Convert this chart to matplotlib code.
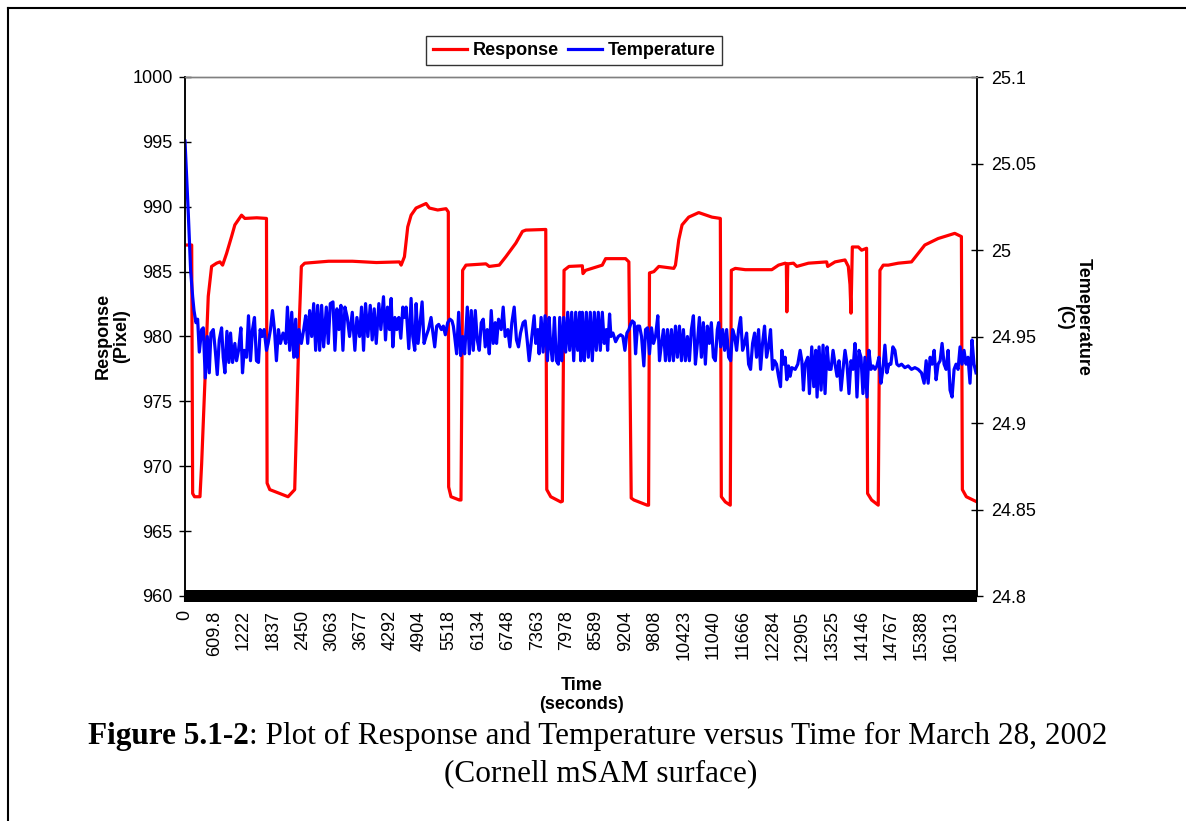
import matplotlib
matplotlib.use("Agg")
import matplotlib.pyplot as plt
from matplotlib.ticker import FixedLocator, FixedFormatter
from matplotlib.lines import Line2D
import numpy as np

# ---------------- data ----------------
resp_time = [
    0, 140, 160, 200, 313, 348, 417, 486,
    556, 660, 730, 786, 869, 973, 1042, 1182,
    1251, 1500, 1703, 1716, 1772, 1981, 2154, 2293,
    2328, 2383, 2432, 2502, 3000, 3500, 4000, 4483,
    4518, 4587, 4656, 4726, 4830, 5039, 5108, 5282,
    5456, 5504, 5511, 5560, 5734, 5769, 5803, 5873,
    6290, 6359, 6568, 6707, 6916, 7054, 7124, 7541,
    7562, 7645, 7854, 7888, 7923, 8027, 8305, 8319,
    8375, 8722, 8792, 9209, 9278, 9327, 9383, 9661,
    9690, 9709, 9800, 9904, 10217, 10252, 10321, 10390,
    10529, 10738, 11015, 11190, 11211, 11294, 11398, 11419,
    11503, 11711, 12266, 12406, 12545, 12570, 12580, 12600,
    12719, 12788, 13031, 13413, 13434, 13588, 13796, 13865,
    13900, 13921, 13949, 14074, 14143, 14247, 14268, 14352,
    14491, 14526, 14595, 14700, 14908, 15186, 15464, 15742,
    16090, 16229, 16249, 16332, 16555,
]
resp_value = [
    987.05, 987.05, 967.9, 967.65, 967.65, 970.2, 976.6, 983.1,
    985.4, 985.65, 985.75, 985.5, 986.4, 987.7, 988.6, 989.35,
    989.1, 989.15, 989.1, 968.7, 968.2, 967.9, 967.65, 968.2,
    972.8, 980.5, 985.4, 985.65, 985.8, 985.8, 985.7, 985.75,
    985.5, 986.15, 988.45, 989.35, 989.9, 990.25, 989.9, 989.75,
    989.85, 989.6, 968.4, 967.65, 967.4, 967.4, 985.1, 985.5,
    985.6, 985.4, 985.5, 986.15, 987.2, 988.1, 988.2, 988.25,
    968.2, 967.65, 967.25, 967.3, 985.1, 985.4, 985.45, 984.85,
    985.1, 985.5, 986.0, 986.0, 985.75, 967.55, 967.4, 967.0,
    967.0, 984.9, 985.0, 985.4, 985.25, 985.5, 987.45, 988.6,
    989.2, 989.55, 989.2, 989.1, 967.65, 967.25, 967.0, 985.1,
    985.25, 985.15, 985.15, 985.5, 985.65, 985.6, 981.9, 985.6,
    985.65, 985.4, 985.65, 985.75, 985.4, 985.75, 985.9, 985.4,
    984.0, 981.8, 986.9, 986.9, 986.65, 986.8, 967.9, 967.4,
    967.0, 985.1, 985.5, 985.5, 985.65, 985.75, 987.05, 987.55,
    987.95, 987.7, 968.2, 967.65, 967.25,
]

temp_time = [
    0, 69, 118, 160, 188, 229, 264, 299, 348, 382,
    424, 466, 507, 542, 591, 633, 674, 716, 765, 799,
    834, 876, 917, 952, 994, 1042, 1077, 1119, 1168, 1202,
    1237, 1286, 1327, 1369, 1411, 1452, 1494, 1536, 1571, 1612,
    1654, 1703, 1737, 1786, 1828, 1870, 1911, 1953, 1995, 2050,
    2106, 2141, 2189, 2231, 2273, 2314, 2342, 2383, 2432, 2481,
    2523, 2565, 2606, 2648, 2690, 2731, 2773, 2815, 2856, 2898,
    2954, 2995, 3037, 3093, 3134, 3176, 3218, 3259, 3301, 3343,
    3392, 3440, 3496, 3551, 3593, 3649, 3690, 3732, 3774, 3822,
    3872, 3913, 3955, 3997, 4052, 4094, 4149,
    4191, 4233, 4275, 4309, 4344, 4386, 4427, 4469, 4511, 4553,
    4594, 4622, 4678, 4726, 4761, 4803, 4831, 4872, 4900, 4956,
    4997, 5039, 5088, 5143, 5178, 5220, 5261, 5303, 5359, 5400,
    5442, 5491, 5539, 5581, 5609, 5637, 5678, 5720, 5762, 5804,
    5845, 5901, 5943, 5984, 6026, 6068, 6109, 6151, 6193, 6234,
    6276, 6318, 6360, 6401, 6443, 6485, 6512, 6554, 6610, 6651,
    6693, 6749, 6790, 6832, 6881, 6929, 6971, 7013, 7068, 7110,
    7152, 7194, 7249, 7298, 7333, 7374, 7402, 7444, 7485, 7527,
    7576, 7611, 7645, 7680, 7722, 7763, 7805, 7833, 7875, 7916,
    7958, 8000, 8041, 8083, 8125, 8167, 8208, 8250,
    8271, 8306, 8347, 8389, 8431, 8472, 8514, 8556, 8597, 8639,
    8681, 8723, 8764, 8806, 8834, 8875, 8903, 8945, 9001, 9056,
    9105, 9153, 9195, 9237, 9279, 9313, 9348, 9390, 9418, 9459,
    9501, 9543, 9591, 9626, 9668, 9709, 9751, 9793, 9835, 9883,
    9918, 9960, 10001, 10043, 10085, 10126, 10168, 10210, 10252, 10293,
    10335, 10377, 10418, 10460, 10502, 10543, 10585, 10627, 10669, 10710,
    10752, 10794, 10835, 10877, 10919, 10960, 11002, 11044, 11086, 11127,
    11155, 11197, 11238, 11280, 11322, 11364, 11405, 11447, 11489, 11530,
    11572, 11614, 11655, 11697, 11739, 11781, 11822, 11864, 11906, 11947,
    11989, 12031, 12072, 12114, 12156, 12198, 12239, 12281, 12323, 12364,
    12406, 12448,
    12476, 12510, 12545, 12580, 12615, 12649, 12684, 12754, 12809, 12858,
    12893, 12927, 12962, 13018, 13052, 13101, 13143, 13184, 13212, 13254,
    13296, 13337, 13379, 13421, 13462, 13504, 13546, 13588, 13629, 13671,
    13713, 13754, 13796, 13838, 13879, 13921, 13963, 14005, 14046, 14088,
    14130, 14171, 14213, 14255, 14296, 14338, 14380, 14422, 14463, 14505,
    14547, 14588, 14630, 14672, 14713, 14755, 14797, 14839, 14880, 14922,
    14978, 15047, 15117, 15186, 15256, 15325, 15395, 15450, 15492, 15534,
    15575, 15617, 15659, 15700, 15742, 15784, 15825, 15867, 15909, 15951,
    15992, 16034, 16076, 16117, 16159, 16201, 16242, 16284, 16326, 16367,
    16409, 16451, 16492, 16534,
]
temp_value = [
    25.063, 25.021, 24.988, 24.973, 24.965, 24.958, 24.960, 24.941, 24.954, 24.955,
    24.926, 24.950, 24.929, 24.952, 24.954, 24.942, 24.928, 24.948, 24.955, 24.938,
    24.929, 24.953, 24.935, 24.952, 24.935, 24.946, 24.936, 24.942, 24.955, 24.929,
    24.942, 24.938, 24.962, 24.936, 24.954, 24.961, 24.936, 24.935, 24.954, 24.950,
    24.954, 24.942, 24.946, 24.954, 24.965, 24.954, 24.936, 24.954, 24.946, 24.952,
    24.946, 24.967, 24.942, 24.964, 24.938, 24.960, 24.938, 24.954, 24.946, 24.954,
    24.962, 24.946, 24.965, 24.950, 24.969, 24.942, 24.968, 24.942, 24.968, 24.944,
    24.967, 24.946, 24.969, 24.970, 24.942, 24.966, 24.954, 24.968, 24.942, 24.967,
    24.961, 24.950, 24.964, 24.942, 24.961, 24.950, 24.967, 24.942, 24.969, 24.950,
    24.968, 24.948, 24.966, 24.946, 24.969, 24.954, 24.973,
    24.948, 24.967, 24.954, 24.972, 24.944, 24.961, 24.954, 24.961, 24.949, 24.967,
    24.961, 24.967, 24.943, 24.972, 24.950, 24.942, 24.969, 24.946, 24.954, 24.970,
    24.946, 24.950, 24.954, 24.961, 24.953, 24.944, 24.956, 24.957, 24.954, 24.956,
    24.951, 24.958, 24.960, 24.959, 24.956, 24.950, 24.940, 24.964, 24.939, 24.950,
    24.940, 24.967, 24.940, 24.965, 24.942, 24.965, 24.948, 24.942, 24.958, 24.960,
    24.944, 24.954, 24.940, 24.965, 24.946, 24.958, 24.946, 24.960, 24.954, 24.967,
    24.950, 24.954, 24.944, 24.958, 24.967, 24.948, 24.944, 24.952, 24.958, 24.959,
    24.948, 24.936, 24.950, 24.962, 24.946, 24.954, 24.940, 24.961, 24.941, 24.962,
    24.936, 24.961, 24.944, 24.936, 24.961, 24.936, 24.934, 24.961, 24.936, 24.961,
    24.941, 24.964, 24.942, 24.964, 24.936, 24.964, 24.942, 24.964,
    24.936, 24.964, 24.936, 24.964, 24.938, 24.964, 24.936, 24.964, 24.942, 24.964,
    24.942, 24.964, 24.946, 24.954, 24.942, 24.963, 24.950, 24.952, 24.947, 24.950,
    24.951, 24.950, 24.942, 24.952, 24.954, 24.957, 24.959, 24.958, 24.940, 24.956,
    24.956, 24.950, 24.933, 24.954, 24.955, 24.940, 24.955, 24.946, 24.950, 24.962,
    24.936, 24.946, 24.954, 24.936, 24.954, 24.936, 24.954, 24.936, 24.956, 24.938,
    24.956, 24.936, 24.954, 24.936, 24.950, 24.936, 24.954, 24.962, 24.934, 24.946,
    24.961, 24.938, 24.958, 24.934, 24.956, 24.946, 24.958, 24.938, 24.936, 24.954,
    24.958, 24.944, 24.954, 24.942, 24.954, 24.938, 24.936, 24.954, 24.950, 24.942,
    24.954, 24.961, 24.942, 24.946, 24.952, 24.934, 24.931, 24.946, 24.952, 24.938,
    24.954, 24.931, 24.946, 24.956, 24.938, 24.944, 24.954, 24.931, 24.936, 24.934,
    24.927, 24.921,
    24.942, 24.934, 24.938, 24.925, 24.933, 24.927, 24.932, 24.931, 24.934, 24.942,
    24.936, 24.919, 24.934, 24.938, 24.917, 24.944, 24.921, 24.942, 24.915, 24.944,
    24.919, 24.945, 24.917, 24.944, 24.931, 24.931, 24.942, 24.934, 24.927, 24.936,
    24.919, 24.931, 24.942, 24.934, 24.917, 24.936, 24.931, 24.946, 24.915, 24.942,
    24.938, 24.917, 24.938, 24.915, 24.942, 24.931, 24.933, 24.931, 24.933, 24.938,
    24.923, 24.931, 24.945, 24.929, 24.934, 24.934, 24.944, 24.942, 24.934, 24.933,
    24.934, 24.932, 24.933, 24.931, 24.932, 24.931, 24.929, 24.923, 24.936, 24.923,
    24.938, 24.934, 24.942, 24.925, 24.934, 24.936, 24.946, 24.934, 24.931, 24.942,
    24.919, 24.915, 24.931, 24.934, 24.931, 24.944, 24.934, 24.942, 24.934, 24.938,
    24.923, 24.948, 24.934, 24.929,
]

x_tick_pos = [0, 609.8, 1222, 1837, 2450, 3063, 3677, 4292, 4904, 5518, 6134,
              6748, 7363, 7978, 8589, 9204, 9808, 10423, 11040, 11666, 12284,
              12905, 13525, 14146, 14767, 15388, 16013]
x_tick_labels = ["0", "609.8", "1222", "1837", "2450", "3063", "3677", "4292",
                 "4904", "5518", "6134", "6748", "7363", "7978", "8589", "9204",
                 "9808", "10423", "11040", "11666", "12284", "12905", "13525",
                 "14146", "14767", "15388", "16013"]
left_ticks = [960, 965, 970, 975, 980, 985, 990, 995, 1000]
right_ticks = [24.8, 24.85, 24.9, 24.95, 25.0, 25.05, 25.1]
right_tick_labels = ["24.8", "24.85", "24.9", "24.95", "25", "25.05", "25.1"]

# ---------------- figure ----------------
W, H = 1186, 821
fig = plt.figure(figsize=(W / 100, H / 100), dpi=100)
SANS = "Liberation Sans"
SERIF = "Liberation Serif"

ax = fig.add_axes([185 / W, 1 - 596 / H, (977 - 185) / W, (596 - 77) / H])
l1, = ax.plot(resp_time, resp_value, color="#FF0000", lw=2.3, solid_joinstyle="round")
ax.set_xlim(0, 16555)
ax.set_ylim(960, 1000)

ax2 = ax.twinx()
l2, = ax2.plot(temp_time, temp_value, color="#0000FF", lw=2.3, solid_joinstyle="round")
ax2.set_ylim(24.8, 25.1)

# spines
for a in (ax, ax2):
    a.spines["top"].set_color("#808080")
    a.spines["top"].set_linewidth(1.0)
    for s in ("left", "right", "bottom"):
        a.spines[s].set_color("black")
        a.spines[s].set_linewidth(1.1)

# x axis: labels + dense cross ticks (black band)
ax.xaxis.set_major_locator(FixedLocator(x_tick_pos))
ax.xaxis.set_major_formatter(FixedFormatter(x_tick_labels))
ax.xaxis.set_minor_locator(FixedLocator(np.arange(0, 16555, 20)))
ax.tick_params(axis="x", which="both", direction="inout", length=8.6,
               width=1.5, color="black")
ax.tick_params(axis="x", which="major", labelsize=13, pad=6, labelrotation=90)
for lab in ax.get_xticklabels():
    lab.set_fontfamily(SANS)

# left y axis
ax.yaxis.set_major_locator(FixedLocator(left_ticks))
ax.set_yticklabels([str(v) for v in left_ticks])
ax.tick_params(axis="y", direction="inout", length=8, width=1.0,
               color="black", labelsize=13, pad=5)
for lab in ax.get_yticklabels():
    lab.set_fontfamily(SANS)

# right y axis
ax2.yaxis.set_major_locator(FixedLocator(right_ticks))
ax2.yaxis.set_major_formatter(FixedFormatter(right_tick_labels))
ax2.tick_params(axis="y", direction="inout", length=8, width=1.0,
                color="black", labelsize=13, pad=6)
for lab in ax2.get_yticklabels():
    lab.set_fontfamily(SANS)

# axis titles
fig.text(112 / W, 1 - 336 / H, "Response\n(Pixel)", rotation=90, ha="center",
         va="center", multialignment="center", fontsize=13, fontweight="bold",
         family=SANS, linespacing=1.1)
fig.text(1074 / W, 1 - 317 / H, "Temeperature\n(C)", rotation=270, ha="center",
         va="center", multialignment="center", fontsize=13, fontweight="bold",
         family=SANS, linespacing=1.1)
fig.text(582 / W, 1 - 695 / H, "Time\n(seconds)", ha="center", va="center",
         multialignment="center", fontsize=13, fontweight="bold", family=SANS,
         linespacing=1.2)

# legend
leg = fig.legend(handles=[l1, l2], labels=["Response", "Temperature"],
                 loc="center", bbox_to_anchor=(574 / W, 1 - 50.5 / H), ncol=2,
                 frameon=True, fancybox=False, edgecolor="black",
                 prop=dict(family=SANS, weight="bold", size=13),
                 handlelength=1.9, handletextpad=0.3, columnspacing=0.5,
                 borderpad=0.35, borderaxespad=0)
leg.get_frame().set_linewidth(1.0)

# outer frame (left & top)
fig.add_artist(Line2D([8 / W, 8 / W], [0, 1 - 8 / H], transform=fig.transFigure,
                      color="black", lw=1.5))
fig.add_artist(Line2D([8 / W, 1], [1 - 8 / H, 1 - 8 / H], transform=fig.transFigure,
                      color="black", lw=1.5))

# caption
fs = 22.5
r = fig.canvas.get_renderer()
y1 = 1 - 736 / H
t1 = fig.text(0, y1, "Figure 5.1-2", fontsize=fs, fontweight="bold", family=SERIF,
              ha="left", va="center")
t2 = fig.text(0, y1, ": Plot of Response and Temperature versus Time for March 28, 2002",
              fontsize=fs, family=SERIF, ha="left", va="center")
w1 = t1.get_window_extent(r).width
w2 = t2.get_window_extent(r).width
cx = 598
x0 = cx - (w1 + w2) / 2
t1.set_x(x0 / W)
t2.set_x((x0 + w1) / W)
fig.text(601 / W, 1 - 774 / H, "(Cornell mSAM surface)", fontsize=fs, family=SERIF,
         ha="center", va="center")

fig.savefig("out.png", dpi=100)
